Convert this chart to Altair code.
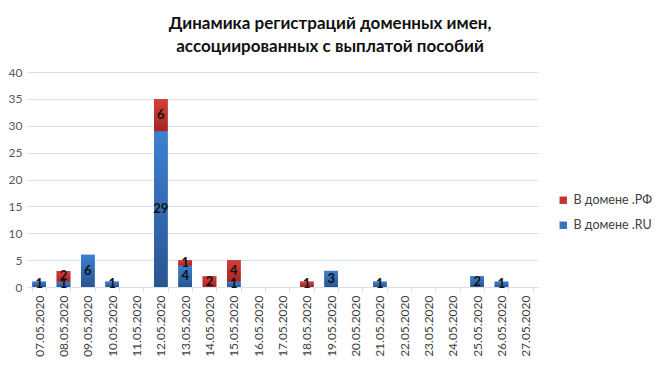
import altair as alt
import pandas as pd

dates = ["07.05.2020", "08.05.2020", "09.05.2020", "10.05.2020", "11.05.2020",
         "12.05.2020", "13.05.2020", "14.05.2020", "15.05.2020", "16.05.2020",
         "17.05.2020", "18.05.2020", "19.05.2020", "20.05.2020", "21.05.2020",
         "22.05.2020", "23.05.2020", "24.05.2020", "25.05.2020", "26.05.2020",
         "27.05.2020"]
ru_values = [1, 1, 6, 1, 0, 29, 4, 0, 1, 0, 0, 0, 3, 0, 1, 0, 0, 0, 2, 1, 0]
rf_values = [0, 2, 0, 0, 0, 6, 1, 2, 4, 0, 0, 1, 0, 0, 0, 0, 0, 0, 0, 0, 0]
series_names = ["В домене .РФ", "В домене .RU"]
title_lines = ["Динамика регистраций доменных имен,", "ассоциированных с выплатой пособий"]
y_ticks = [0, 5, 10, 15, 20, 25, 30, 35, 40]

rows = []
for d, ru, rf in zip(dates, ru_values, rf_values):
    if ru > 0:
        rows.append({"date": d, "series": series_names[1], "value": ru,
                     "y0": 0, "y1": ru, "mid": ru / 2})
    if rf > 0:
        rows.append({"date": d, "series": series_names[0], "value": rf,
                     "y0": ru, "y1": ru + rf, "mid": ru + rf / 2})
df = pd.DataFrame(rows)

FONT = "Lato"
GRID = "#D6E1F0"

x_enc = alt.X("date:N", sort=dates,
              scale=alt.Scale(domain=dates, paddingInner=0.44, paddingOuter=0.22),
              axis=alt.Axis(title=None, labelAngle=270, labelAlign="right",
                            labelBaseline="middle", labelFont=FONT, labelFontSize=12,
                            labelColor="#404040", labelPadding=3,
                            domainColor=GRID, tickColor=GRID, tickBand="extent",
                            tickSize=5, grid=False))

y_scale = alt.Scale(domain=[0, 40], nice=False)
y_axis = alt.Axis(title=None, values=y_ticks, domain=False, ticks=False,
                  gridColor=GRID, labelFont=FONT, labelFontSize=12,
                  labelColor="#595959", labelPadding=5)


def y_of(field):
    return alt.Y(field, scale=y_scale, axis=y_axis)


base = alt.Chart(df).encode(x=x_enc)

legend_bars = base.mark_bar().encode(
    y=y_of("y0:Q"), y2="y1:Q",
    color=alt.Color("series:N",
                    scale=alt.Scale(domain=series_names, range=["#C8322E", "#3571C2"]),
                    legend=alt.Legend(title=None, orient="none", legendX=530, legendY=122,
                                      symbolType="square", symbolSize=55,
                                      labelFont=FONT, labelFontSize=12.5,
                                      labelColor="#404040", rowPadding=12,
                                      symbolStrokeWidth=0, padding=0)))

ru_grad = base.transform_filter(alt.datum.series == series_names[1]).mark_bar(
    color=alt.Gradient(gradient="linear",
                       stops=[alt.GradientStop(color="#3D80D3", offset=0),
                              alt.GradientStop(color="#2A5590", offset=1)],
                       x1=0, x2=0, y1=0, y2=1)
).encode(y=y_of("y0:Q"), y2="y1:Q")

rf_grad = base.transform_filter(alt.datum.series == series_names[0]).mark_bar(
    color=alt.Gradient(gradient="linear",
                       stops=[alt.GradientStop(color="#D4403C", offset=0),
                              alt.GradientStop(color="#A42626", offset=1)],
                       x1=0, x2=0, y1=0, y2=1)
).encode(y=y_of("y0:Q"), y2="y1:Q")

labels = base.mark_text(font=FONT, fontWeight="bold", fontSize=13, color="#111111",
                        baseline="middle").encode(y=y_of("mid:Q"), text="value:Q")

chart = alt.layer(legend_bars, ru_grad, rf_grad, labels).properties(
    width=511, height=215,
    title=alt.Title(title_lines, font=FONT, fontSize=17, fontWeight="bold",
                    color="#111111", anchor="middle", frame="bounds",
                    lineHeight=23, offset=10),
    padding={"left": 0, "top": 7, "right": 0, "bottom": 0},
).configure_view(stroke=None)

chart.save("out.html", embed_options={"renderer": "svg", "actions": False})
